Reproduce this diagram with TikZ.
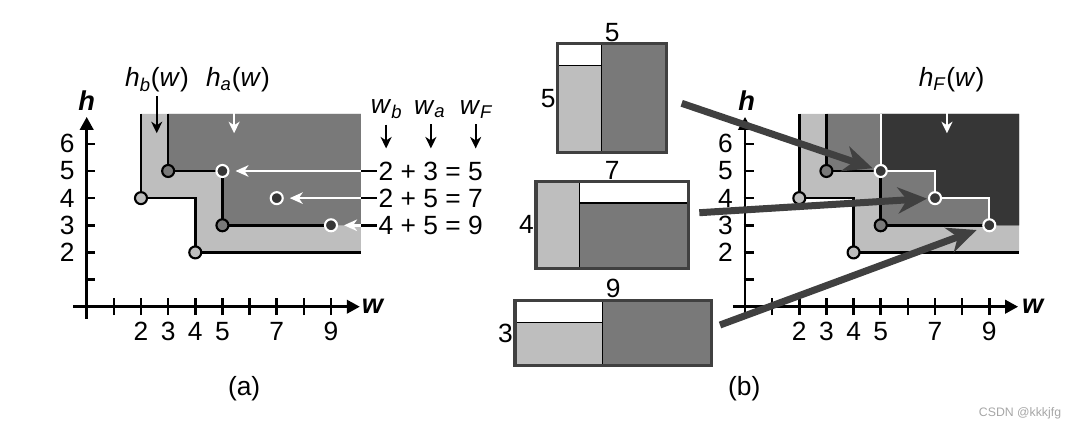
\documentclass[tikz,border=0pt]{standalone}
\usepackage{fontspec}
\setmainfont{Liberation Sans}
\usepackage{xcolor}
\usepackage{tikz}
\usetikzlibrary{arrows.meta,positioning,calc}

\definecolor{lightfill}{HTML}{BEBEBE}
\definecolor{midfill}{HTML}{797979}
\definecolor{darkfill}{HTML}{363636}
\definecolor{arrowgray}{HTML}{404040}

\tikzset{
  stair line/.style  = {line width=1.5pt},
  hF line/.style     = {white, line width=1.2pt},
  axis line/.style   = {line width=1.5pt, -{Triangle[length=0.26cm, width=0.27cm]}},
  tick line/.style   = {line width=1.5pt},
  thin line/.style   = {line width=0.7pt},
  box frame/.style   = {draw=arrowgray, line width=1.8pt},
  base dot/.style    = {circle, draw, line width=1.2pt, inner sep=0pt,
                        minimum size=0.24cm},
  light dot/.style   = {base dot, fill=lightfill},
  mid dot/.style     = {base dot, fill=midfill},
  open dot/.style    = {base dot, draw=white, fill=darkfill},
  white arr/.style   = {white, line width=1.4pt,
                        -{Stealth[length=0.26cm, width=0.23cm, inset=0.08cm]}},
  label arr/.style   = {line width=1.2pt,
                        -{Stealth[length=0.23cm, width=0.22cm, inset=0.07cm]}},
  big arr/.style     = {arrowgray, line width=0.14cm,
                        -{Stealth[length=0.58cm, width=0.52cm, inset=0.18cm]}},
  axis label/.style  = {font=\fontsize{15.5}{18}\selectfont\bfseries\itshape},
  fn label/.style    = {inner sep=2pt},
  box num/.style     = {inner sep=1pt},
}

\begin{document}
\begin{tikzpicture}[
    x=0.02cm, y=-0.02cm,
    every node/.style={font=\fontsize{15}{18}\selectfont},
  ]
  \useasboundingbox (0,0) rectangle (1074,427);

  %% --- (a): h_a and h_b, sums of widths ----------------------------
  \begin{scope}[shift={(86.7,306.7)}, x=0.543cm, y=0.543cm]
    \fill[lightfill] (2,7.1) -- (2,4) -- (4,4) -- (4,2) -- (10.1,2) -- (10.1,7.1) -- cycle;
    \fill[midfill] (3,7.1) -- (3,5) -- (5,5) -- (5,3) -- (10.1,3) -- (10.1,7.1) -- cycle;
    \draw[stair line] (2,7.1) -- (2,4) -- (4,4) -- (4,2) -- (10.1,2);
    \draw[stair line] (3,7.1) -- (3,5) -- (5,5) -- (5,3) -- (9,3);

    % axes
    \draw[axis line] (-0.5,0) -- (10.06,0);
    \draw[axis line] (0,-0.45) -- (0,6.99);
    \foreach \x in {1,...,9}
      \draw[tick line] (\x,-0.31) -- (\x,0.31);
    \foreach \y in {1,...,6}
      \draw[tick line] (-0.05,\y) -- (0.32,\y);
    \foreach \x in {2,3,4,5,7,9}
      \node (xa\x) at (\x,-0.9) {\x};
    \foreach \y in {2,...,6}
      \node (ya\y) at (-0.72,\y) {\y};
    \node[axis label] (wa) at (10.53,0) {w};
    \node[axis label] (ha) at (0,7.61) {h};

    % corner points
    \node[light dot] (pa24) at (2,4) {};
    \node[light dot] (pa42) at (4,2) {};
    \node[mid dot] (pa35) at (3,5) {};
    \node[mid dot] (pa53) at (5,3) {};
    \node[open dot] (pa55) at (5,5) {};
    \node[open dot] (pa74) at (7,4) {};
    \node[open dot] (pa93) at (9,3) {};

    % function labels
    \node[fn label] (hb) at (2.59,8.35) {\textit{h}\textsubscript{\textit{b}}(\textit{w})};
    \node[fn label] (hA) at (5.57,8.35) {\textit{h}\textsubscript{\textit{a}}(\textit{w})};
    \coordinate (hbtip) at (2.58,6.39);
    \coordinate (hAtip) at (5.43,6.39);
    \draw[label arr] (hbtip |- hb.south) -- (hbtip);
    \draw[label arr, white] (hAtip |- hA.south) -- (hAtip);

    % width sums
    \node (wb) at (11.05,7.28) {\textit{w}\textsubscript{\textit{b}}};
    \node (wA) at (12.64,7.28) {\textit{w}\textsubscript{\textit{a}}};
    \node (wF) at (14.36,7.28) {\textit{w}\textsubscript{\textit{F}}};
    \coordinate (wbtip) at (11.03,5.83);
    \coordinate (wAtip) at (12.68,5.83);
    \coordinate (wFtip) at (14.33,5.83);
    \draw[label arr] (wbtip |- wb.south) -- (wbtip);
    \draw[label arr] (wAtip |- wA.south) -- (wAtip);
    \draw[label arr] (wFtip |- wF.south) -- (wFtip);

    \node[anchor=west, inner sep=1pt] (eq5) at (10.68,5) {2 + 3 = 5};
    \node[anchor=west, inner sep=1pt] (eq7) at (10.68,4) {2 + 5 = 7};
    \node[anchor=west, inner sep=1pt] (eq9) at (10.68,3) {4 + 5 = 9};
    \coordinate (ea5) at (10.1,5);
    \coordinate (ea7) at (10.1,4);
    \coordinate (ea9) at (10.1,3);
    \draw[stair line] (ea5) -- (eq5.west);
    \draw[stair line] (ea7) -- (eq7.west);
    \draw[stair line] (ea9) -- (eq9.west);
    \draw[white arr, shorten >=0.12cm] (ea5) -- (pa55);
    \draw[white arr, shorten >=0.12cm] (ea7) -- (pa74);
    \draw[white arr, shorten >=0.12cm] (ea9) -- (pa93);

    \node (capa) at (5.8,-3.03) {(a)};
  \end{scope}

  %% --- (b): the three candidate boxes ------------------------------
  \begin{scope}[shift={(557.7,152.7)}, x=0.436cm, y=0.436cm]
    \fill[white] (0,4) rectangle (2,5);
    \fill[lightfill] (0,0) rectangle (2,4);
    \fill[midfill] (2,0) rectangle (5,5);
    \draw[thin line] (0,4) -- (2,4) (2,0) -- (2,5);
    \draw[box frame] (0,0) rectangle (5,5);
    \node[box num, above=0pt] (top5) at (2.5,5) {5};
    \node[box num, left=0pt] (side5) at (0,2.5) {5};
  \end{scope}
  \begin{scope}[shift={(536,268.3)}, x=0.436cm, y=0.436cm]
    \fill[lightfill] (0,0) rectangle (2,4);
    \fill[white] (2,3) rectangle (7,4);
    \fill[midfill] (2,0) rectangle (7,3);
    \draw[thin line] (2,0) -- (2,4) (2,3) -- (7,3);
    \draw[box frame] (0,0) rectangle (7,4);
    \node[box num, above=0pt] (top7) at (3.5,4) {7};
    \node[box num, left=0pt] (side4) at (0,2) {4};
  \end{scope}
  \begin{scope}[shift={(515,365.7)}, x=0.436cm, y=0.436cm]
    \fill[white] (0,2) rectangle (4,3);
    \fill[lightfill] (0,0) rectangle (4,2);
    \fill[midfill] (4,0) rectangle (9,3);
    \draw[thin line] (0,2) -- (4,2) (4,0) -- (4,3);
    \draw[box frame] (0,0) rectangle (9,3);
    \node[box num, above=0pt] (top9) at (4.5,3) {9};
    \node[box num, left=0pt] (side3) at (0,1.5) {3};
  \end{scope}

  %% --- (b): h_F as the envelope -------------------------------------
  \begin{scope}[shift={(745,306.7)}, x=0.543cm, y=0.543cm]
    \fill[lightfill] (2,7.1) -- (2,4) -- (4,4) -- (4,2) -- (10.1,2) -- (10.1,7.1) -- cycle;
    \fill[midfill] (3,7.1) -- (3,5) -- (5,5) -- (5,3) -- (10.1,3) -- (10.1,7.1) -- cycle;
    \fill[darkfill] (5,7.1) -- (5,5) -- (7,5) -- (7,4) -- (9,4) -- (9,3) -- (10.1,3) -- (10.1,7.1) -- cycle;
    \draw[stair line] (2,7.1) -- (2,4) -- (4,4) -- (4,2) -- (10.1,2);
    \draw[stair line] (3,7.1) -- (3,5) -- (5,5) -- (5,3) -- (9,3);
    \draw[hF line] (5,7.1) -- (5,5) -- (7,5) -- (7,4) -- (9,4) -- (9,3);

    % axes
    \draw[axis line] (-0.45,0) -- (10.06,0);
    \draw[axis line] (0,-0.42) -- (0,6.99);
    \foreach \x in {1,...,9}
      \draw[tick line] (\x,-0.31) -- (\x,0.31);
    \foreach \y in {1,...,6}
      \draw[tick line] (-0.05,\y) -- (0.32,\y);
    \foreach \x in {2,3,4,5,7,9}
      \node (xb\x) at (\x,-0.9) {\x};
    \foreach \y in {2,...,6}
      \node (yb\y) at (-0.72,\y) {\y};
    \node[axis label] (wB) at (10.6,0) {w};
    \node[axis label] (hB) at (0.06,7.61) {h};

    \node[fn label] (hF) at (7.61,8.35) {\textit{h}\textsubscript{\textit{F}}(\textit{w})};
    \coordinate (hFtip) at (7.44,6.39);
    \draw[label arr, white] (hFtip |- hF.south) -- (hFtip);

    % corner points
    \node[light dot] (pb24) at (2,4) {};
    \node[light dot] (pb42) at (4,2) {};
    \node[mid dot] (pb35) at (3,5) {};
    \node[mid dot] (pb53) at (5,3) {};
    \node[open dot] (pb55) at (5,5) {};
    \node[open dot] (pb74) at (7,4) {};
    \node[open dot] (pb93) at (9,3) {};

    \node (capb) at (-0.03,-3.03) {(b)};
  \end{scope}

  % box -> point
  \coordinate (s5) at (681.7,103.3);
  \coordinate (s7) at (699.3,212.7);
  \coordinate (s9) at (720,325);
  \draw[big arr, shorten >=0.03cm] (s5) -- (pb55);
  \draw[big arr, shorten >=0.02cm] (s7) -- (pb74);
  \draw[big arr, shorten >=0.13cm] (s9) -- (pb93);

  \node[font=\fontsize{7}{8}\selectfont, text=gray!70] (mark) at (1020,413) {CSDN @kkkjfg};
\end{tikzpicture}
\end{document}
